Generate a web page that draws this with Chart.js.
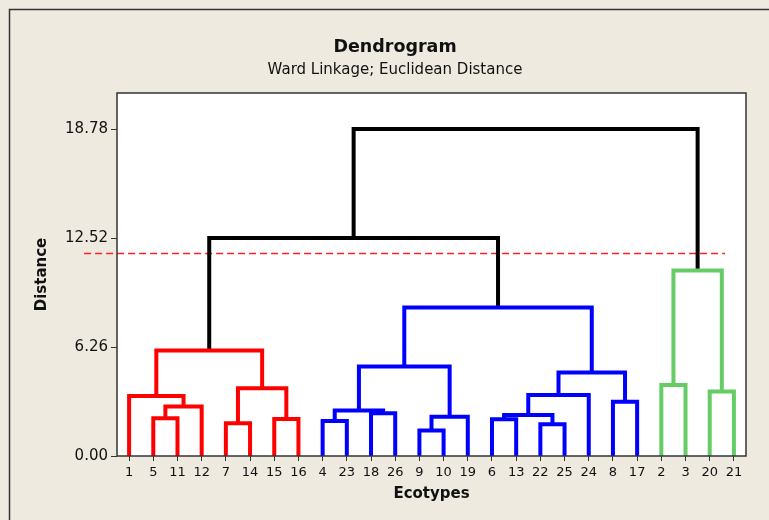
<!DOCTYPE html>
<html>
<head>
<meta charset="utf-8">
<script src="https://cdn.jsdelivr.net/npm/chart.js@4.4.0/dist/chart.umd.min.js"></script>
<style>
  html, body { margin: 0; padding: 0; background: #eeeae0; }
  #wrap { width: 769px; height: 520px; }
</style>
</head>
<body>
<div id="wrap"><canvas id="grafico" width="769" height="520"></canvas></div>
<script>
// folhas na ordem em que aparecem no eixo x
const leafLabels = ['1', '5', '11', '12', '7', '14', '15', '16', '4', '23', '18', '26', '9', '10', '19',
                    '6', '13', '22', '25', '24', '8', '17', '2', '3', '20', '21'];

// fusoes: indices 0..25 sao folhas, 26 em diante sao as fusoes na ordem abaixo
const mergeLeft   = [1, 26, 0, 4, 6, 29, 28, 8, 10, 33, 12, 36, 35, 15, 17, 39, 41, 20, 42, 38, 22, 24, 46, 32, 49];
const mergeRight  = [2, 3, 27, 5, 7, 30, 31, 9, 11, 34, 13, 14, 37, 16, 18, 40, 19, 21, 43, 44, 23, 25, 47, 45, 48];
const mergeHeight = [2.17, 2.84, 3.45, 1.88, 2.13, 3.89, 6.06, 2.01, 2.45, 2.61, 1.46, 2.26, 5.14,
                     2.11, 1.82, 2.36, 3.51, 3.12, 4.79, 8.53, 4.08, 3.70, 10.66, 12.52, 18.78];
// grupo: 0 = acima do corte, 1..3 = clusters
const mergeGroup  = [1, 1, 1, 1, 1, 1, 1, 2, 2, 2, 2, 2, 2, 2, 2, 2, 2, 2, 2, 2, 3, 3, 3, 0, 0];

const yTicks = [0, 6.26, 12.52, 18.78];
const yMax = 20.85;

// linha de corte (tracejada)
const cutHeight = 11.63;
const cutFrom = -1.86;
const cutTo = 24.63;

const palette = { 0: '#000000', 1: '#ff0000', 2: '#0000ff', 3: '#66cc66' };
const txt = '#111111';
Chart.defaults.font.family = "'DejaVu Sans', sans-serif";

// monta os segmentos em U de cada fusao
const nodeX = leafLabels.map((_, i) => i);
const nodeH = leafLabels.map(() => 0);
const linkSets = mergeLeft.map((l, k) => {
  const r = mergeRight[k];
  const h = mergeHeight[k];
  const pts = [
    { x: nodeX[l], y: nodeH[l] },
    { x: nodeX[l], y: h },
    { x: nodeX[r], y: h },
    { x: nodeX[r], y: nodeH[r] }
  ];
  nodeX.push((nodeX[l] + nodeX[r]) / 2);
  nodeH.push(h);
  return {
    data: pts,
    borderColor: palette[mergeGroup[k]],
    borderWidth: 4,
    borderJoinStyle: 'miter',
    borderCapStyle: 'butt',
    pointRadius: 0,
    tension: 0,
    fill: false
  };
});

linkSets.push({
  data: [{ x: cutFrom, y: cutHeight }, { x: cutTo, y: cutHeight }],
  borderColor: '#ff2020',
  borderWidth: 1.3,
  borderDash: [7, 4],
  pointRadius: 0,
  fill: false,
  clip: false
});

const fundo = {
  id: 'fundo',
  beforeDraw(chart) {
    const { ctx, chartArea: a } = chart;
    ctx.save();
    ctx.fillStyle = '#eeeae0';
    ctx.fillRect(0, 0, chart.width, chart.height);
    ctx.strokeStyle = '#333333';
    ctx.lineWidth = 1.5;
    ctx.beginPath();
    ctx.moveTo(9.5, chart.height);
    ctx.lineTo(9.5, 9.5);
    ctx.lineTo(chart.width, 9.5);
    ctx.stroke();
    ctx.fillStyle = '#ffffff';
    ctx.fillRect(a.left, a.top, a.right - a.left, a.bottom - a.top);
    ctx.restore();
  },
  afterDraw(chart) {
    const { ctx, chartArea: a } = chart;
    ctx.save();
    ctx.strokeStyle = '#333333';
    ctx.lineWidth = 1.5;
    ctx.strokeRect(a.left, a.top, a.right - a.left, a.bottom - a.top);
    ctx.restore();
  }
};

new Chart(document.getElementById('grafico').getContext('2d'), {
  type: 'line',
  data: { datasets: linkSets },
  plugins: [fundo],
  options: {
    responsive: false,
    animation: false,
    events: [],
    layout: { padding: { left: 44, right: 23, top: 0, bottom: 0 } },
    plugins: {
      legend: { display: false },
      tooltip: { enabled: false },
      title: {
        display: true,
        text: 'Dendrogram',
        color: txt,
        font: { size: 17.5, weight: 'bold' },
        padding: { top: 36.5, bottom: 3.5 }
      },
      subtitle: {
        display: true,
        text: 'Ward Linkage; Euclidean Distance',
        color: txt,
        font: { size: 15 },
        padding: { top: 0, bottom: 14 }
      }
    },
    scales: {
      x: {
        type: 'linear',
        min: -0.5,
        max: 25.5,
        afterBuildTicks: s => { s.ticks = leafLabels.map((_, i) => ({ value: i })); },
        afterFit: s => { s.height = 64; },
        ticks: {
          autoSkip: false,
          maxRotation: 0,
          padding: 4,
          color: txt,
          font: { size: 13 },
          callback: v => leafLabels[v]
        },
        grid: { drawOnChartArea: false, drawTicks: true, tickLength: 5, tickColor: '#333333' },
        border: { display: false },
        title: {
          display: true,
          text: 'Ecotypes',
          color: txt,
          font: { size: 15, weight: 'bold' },
          padding: { top: 0, bottom: 17 }
        }
      },
      y: {
        min: 0,
        max: yMax,
        afterBuildTicks: s => { s.ticks = yTicks.map(v => ({ value: v })); },
        afterFit: s => { s.width = 73; },
        ticks: {
          padding: 3,
          color: txt,
          font: { size: 15 },
          callback: v => v.toFixed(2)
        },
        grid: { drawOnChartArea: false, drawTicks: true, tickLength: 6, tickColor: '#333333' },
        border: { display: false },
        title: {
          display: true,
          text: 'Distance',
          color: txt,
          font: { size: 15, weight: 'bold' },
          padding: { top: -11, bottom: 0 }
        }
      }
    }
  }
});
</script>
</body>
</html>
